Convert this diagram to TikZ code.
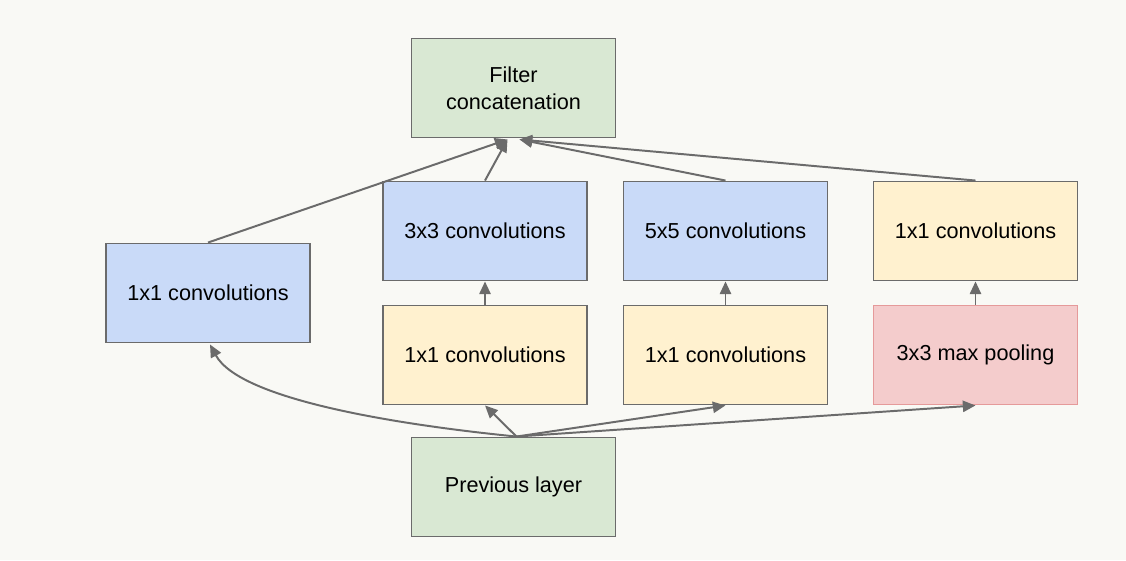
\documentclass[tikz,border=0pt]{standalone}
\usepackage{fontspec}
\setmainfont{Liberation Sans}
\usetikzlibrary{arrows.meta,calc,positioning}

\definecolor{bgpaper}{HTML}{F9F9F5}
\definecolor{linegray}{HTML}{6B6B6B}
\definecolor{greenfill}{HTML}{D9E8D3}
\definecolor{bluefill}{HTML}{C9DAF8}
\definecolor{yellowfill}{HTML}{FFF1CF}
\definecolor{pinkfill}{HTML}{F4CCCC}
\definecolor{pinkline}{HTML}{E59A9A}

\begin{document}
\begin{tikzpicture}[x=0.025cm,y=-0.025cm,thick,
    line width=1.4pt,font=\fontsize{15.4}{19.5}\selectfont]
    \tikzstyle{layer}=[rectangle, draw=linegray, line width=1.2pt,
      minimum width=5.1cm, minimum height=2.48cm, align=center, inner sep=0pt]
    \tikzstyle{flow}=[draw=linegray, -{Triangle[length=9pt,width=8pt]}]

    \fill[bgpaper] (0,0) rectangle (1126,560);
    \useasboundingbox (0,0) rectangle (1126,560);

    % nodes
    \node[layer, fill=greenfill]  (concat) at (513.5,88)  {Filter\\concatenation};
    \node[layer, fill=bluefill]   (conv1)  at (208,293)   {1x1 convolutions};
    \node[layer, fill=bluefill]   (conv3)  at (485,231)   {3x3 convolutions};
    \node[layer, fill=bluefill]   (conv5)  at (725.5,231) {5x5 convolutions};
    \node[layer, fill=yellowfill] (proj)   at (975.5,231) {1x1 convolutions};
    \node[layer, fill=yellowfill] (red3)   at (485,355)   {1x1 convolutions};
    \node[layer, fill=yellowfill] (red5)   at (725.5,355) {1x1 convolutions};
    \node[layer, fill=pinkfill, draw=pinkline] (pool) at (975.5,355) {3x3 max pooling};
    \node[layer, fill=greenfill]  (prev)   at (513.5,487) {Previous layer};

    \coordinate (src) at ($(prev.north)+(3,0)$);
    \coordinate (dstL) at ($(concat.south)+(-6,1)$);
    \coordinate (dstR) at ($(concat.south)+(6,1)$);

    % from previous layer
    \draw[flow] (src) .. controls (400,425) and (240,400) .. ($(conv1.south)+(2,1)$);
    \draw[flow] (src) -- (red3.south);
    \draw[flow] (src) -- (red5.south);
    \draw[flow] (src) -- (pool.south);

    % reductions
    \draw[flow] (red3.north) -- (conv3.south);
    \draw[flow] (red5.north) -- (conv5.south);
    \draw[flow] (pool.north) -- (proj.south);

    % into concatenation
    \draw[flow] (conv1.north) -- (dstL);
    \draw[flow] (conv3.north) -- (dstL);
    \draw[flow] (conv5.north) -- (dstR);
    \draw[flow] (proj.north) -- (dstR);
\end{tikzpicture}
\end{document}
